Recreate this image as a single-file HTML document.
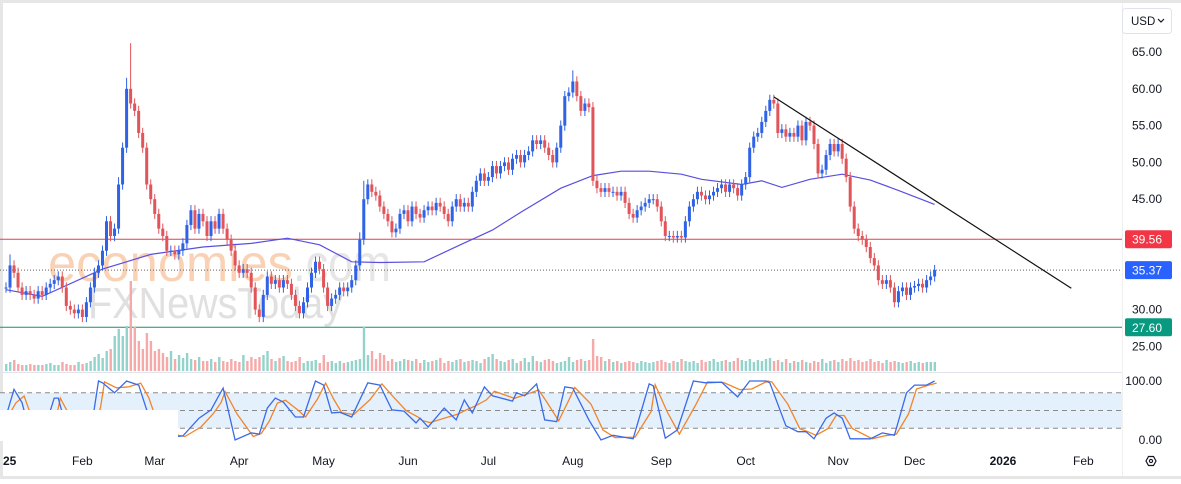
<!DOCTYPE html>
<html><head><meta charset="utf-8"><style>
html,body{margin:0;padding:0;background:#fff;}
body{width:1181px;height:479px;overflow:hidden;font-family:"Liberation Sans",sans-serif;}
svg text{font-family:"Liberation Sans",sans-serif;}
</style></head><body>
<svg id="chart" width="1181" height="479" viewBox="0 0 1181 479" xmlns="http://www.w3.org/2000/svg">
<rect x="0" y="0" width="1181" height="479" fill="#fff"/>
<rect x="0" y="0" width="1181" height="3" fill="#e6e6e6"/>
<rect x="0" y="0" width="3" height="479" fill="#e6e6e6"/>
<rect x="0" y="476" width="1181" height="3" fill="#e6e6e6"/>
<g id="watermark">
<text x="48" y="281" font-size="52" fill="#f9d2b5" textLength="245" lengthAdjust="spacingAndGlyphs">economies</text>
<text x="293" y="281" font-size="52" fill="#e6e6e6" textLength="98" lengthAdjust="spacingAndGlyphs">.com</text>
<text x="88" y="318" font-size="44" fill="#e0e0e0" textLength="255" lengthAdjust="spacingAndGlyphs">FXNewsToday</text>
</g>
<g id="stoch-bg"></g>
<g id="levels"></g>
<g id="volume"></g>
<g id="ma"></g>
<g id="candles"></g>
<g id="stoch"></g>
<rect x="0" y="410" width="178" height="31" fill="#fff"/>
<g id="axes"></g>
</svg>
<script>
const closes=[33,36,35,33,32,32.5,32,31.5,32.5,32,
33,33.5,34,34.5,33,30.5,30,29.5,30,29,
31,33,35,36,38,42,40,41,47,52,
60,58,57,54,52,47,45,43,41,40,
38,38,37.5,38,39,41.5,43.5,41,43,42,
40,42,41,43,41,39.5,38,36,35,35.5,
35,33,30,29,32,34.5,33.5,34,33,34,
33.5,32,30.5,29.5,31,33,35,36.5,35.5,33,
30.5,31.5,32,33,32.5,33,34,36,39.5,45,
47,46,45.5,44,43,42,40.5,41,43,43.5,
42,44,43,42.5,43.5,44,43.5,44.5,44,43,
42,44,45,44,44.5,44,46,47.5,48.5,47.5,
48,49.5,48.5,49.5,50,49,50.5,51,50,51,
51.5,53,52.5,53,52,51,50,52,55,59,
59.5,61,59,57,58,57.5,47.5,46.5,46,46.5,
46,46,45.5,46,44.5,43,42.5,43.5,44,44.5,
45,45,44,42,40,40,39.8,40,39.8,42,
44,45,46,45.5,45,45.5,46,46.5,47,46,
47,46.5,45.5,47,48,52,53.5,54,55.5,57,
58.5,58,54,54.5,53.5,54,53.5,55,53,55.5,
55,52.5,48.5,49,51,52.5,51.5,52.5,50.5,48,
44,41,40,39.5,38.5,37,36,34,33.5,34,
33,31,32.5,33,32,33,33.2,33.5,33,34,
34.5,35.37];
const spikeIdx=[1,28,31,30,88,89,141,190,221];
const spikeHigh=[37.5,48,66.2,61.5,40.5,47.5,62.5,59,32];
const volumes=[7,9,11,7,6,6,7,6,6,6,
7,8,6,6,9,7,6,6,9,7,
8,10,14,17,13,20,22,35,42,35,
45,90,44,30,22,38,30,20,22,18,
14,20,12,16,13,18,12,11,14,10,
10,12,9,14,10,9,12,10,9,16,
10,14,12,14,16,20,12,10,13,15,
10,9,10,14,8,10,10,11,8,16,
9,10,8,10,8,9,10,11,12,44,
16,20,12,18,16,10,12,9,10,12,
11,10,12,8,11,9,10,11,13,8,
10,9,11,12,9,10,11,10,8,12,
14,17,12,10,9,11,12,8,10,13,
9,15,10,9,11,12,10,8,9,10,
14,9,11,12,10,11,32,15,14,10,
12,9,10,8,9,10,9,8,10,9,
8,9,10,11,9,8,10,9,12,10,
9,10,8,11,9,10,12,9,10,11,
9,10,13,11,10,12,9,11,10,12,
13,10,11,9,12,8,10,9,11,9,
8,10,9,12,8,10,11,9,12,10,
13,10,11,9,10,12,9,10,8,11,
9,10,9,8,9,10,8,9,8,9,
9,9];
const maIdx=[0,9,24,36,49,61,70,78,86,93,104,113,121,128,138,146,153,160,168,173,183,188,193,200,208,215,222,231];
const maVal=[32.7,31.8,35.5,37.5,38.5,39,39.7,38.8,36.5,36.4,36.5,38.8,40.8,43.2,46.5,48.2,48.8,48.8,48.4,47.7,47,47.5,46.6,47.7,48.4,47.6,46.2,44.3];
const kIdx=[0,2,4,6,9,12,13,15,17,21,23,24,27,30,33,35,37,41,44,48,51,53,54,57,61,63,65,67,69,72,74,77,79,81,83,86,90,93,96,99,102,103,105,109,112,114,116,119,121,126,127,129,132,134,137,139,141,145,148,151,156,160,161,164,167,171,174,178,182,185,189,190,194,197,199,201,204,206,208,210,215,218,221,224,226,229,231];
const kVal=[40,86,63,10,5,71,71,20,5,10,100,97,80,100,93,51,15,5,7,37,51,76,88,0,12,10,54,71,64,39,39,100,93,46,47,39,97,93,51,49,29,37,22,54,34,68,46,90,75,66,80,75,95,34,31,90,88,34,0,8,2,95,92,3,17,100,97,98,73,100,100,97,24,14,14,2,37,46,37,2,2,12,8,80,93,93,100];
const levelVals=[39.56,35.37,27.60];
const priceTicks=[65,60,55,50,45,30,25];
const monthLabels=["25","Feb","Mar","Apr","May","Jun","Jul","Aug","Sep","Oct","Nov","Dec","2026","Feb"];
const monthDays=[1,19,37,58,79,100,120,141,163,184,207,226,248,268];
const trendIdx=[191,265];
const trendVal=[58.9,32.9];

const NS="http://www.w3.org/2000/svg";
function el(tag,attrs,parent){const e=document.createElementNS(NS,tag);for(const k in attrs)e.setAttribute(k,attrs[k]);if(parent)parent.appendChild(e);return e;}
const xOf=i=>6+i*4.02;
const yOf=p=>52+(65-p)*7.36;
const kY=v=>440-v*0.59;
const volY=v=>371-v;
const UP="#2f62e6",DN="#e0545a";

// stoch background
const sb=document.getElementById('stoch-bg');
el('rect',{x:0,y:kY(80),width:1122,height:kY(20)-kY(80),fill:"#e4f1fd"},sb);
[80,50,20].forEach(v=>{const l=el('line',{x1:0,x2:1122,y1:kY(v),y2:kY(v),stroke:"#8a8a8a","stroke-dasharray":"5,4","stroke-width":1},sb);

});
el('line',{x1:0,x2:1122,y1:372.5,y2:372.5,stroke:"#e0e3eb","stroke-width":1},sb);
el('line',{x1:1122.5,x2:1122.5,y1:3,y2:476,stroke:"#f0f0f0","stroke-width":1},sb);

// levels
const lv=document.getElementById('levels');
let l1=el('line',{x1:0,x2:1122,y1:yOf(levelVals[0]),y2:yOf(levelVals[0]),stroke:"#e0414f","stroke-width":1},lv);


let l2=el('line',{x1:0,x2:1122,y1:yOf(levelVals[1]),y2:yOf(levelVals[1]),stroke:"#666","stroke-width":1,"stroke-dasharray":"1,2"},lv);


let l3=el('line',{x1:0,x2:1122,y1:yOf(levelVals[2]),y2:yOf(levelVals[2]),stroke:"#1d8a73","stroke-width":1},lv);



// volume
const vg=document.getElementById('volume');
closes.forEach((c,i)=>{const o=i>0?closes[i-1]:c;const v=volumes[i];if(v===undefined)return;
const r=el('rect',{x:xOf(i)-1,y:volY(v),width:2.4,height:v,fill:c>=o?"#93d3cb":"#f5a9a8"},vg);

});

// MA
const mg=document.getElementById('ma');
let d="";maIdx.forEach((ix,j)=>{d+=(j?"L":"M")+xOf(ix).toFixed(1)+","+yOf(maVal[j]).toFixed(1);});
const mp=el('path',{d:d,fill:"none",stroke:"#5a4fe0","stroke-width":1.2},mg);



// candles
const cg=document.getElementById('candles');
closes.forEach((c,i)=>{const o=i>0?closes[i-1]:c;let hi=Math.max(o,c)+0.7,lo=Math.min(o,c)-0.7;
const s=spikeIdx.indexOf(i);if(s>=0)hi=Math.max(hi,spikeHigh[s]);
const col=c>=o?UP:DN;const x=xOf(i);
const g=el('g',{},cg);


el('line',{x1:x,x2:x,y1:yOf(hi),y2:yOf(lo),stroke:col,"stroke-width":1},g);
const top=yOf(Math.max(o,c)),bh=Math.max(1,yOf(Math.min(o,c))-top);
el('rect',{x:x-1.5,y:top,width:3,height:bh,fill:col},g);});

// trendline
const tl=el('line',{x1:xOf(trendIdx[0]),y1:yOf(trendVal[0]),x2:xOf(trendIdx[1]),y2:yOf(trendVal[1]),stroke:"#111","stroke-width":1.2},cg);



// stoch
const sg=document.getElementById('stoch');
const dVal=kVal.map((v,j)=>j>0?(v+kVal[j-1])/2:v);
let kd="",dd="";kIdx.forEach((ix,j)=>{kd+=(j?"L":"M")+xOf(ix).toFixed(1)+","+kY(kVal[j]).toFixed(1);dd+=(j?"L":"M")+(xOf(ix)+2).toFixed(1)+","+kY(dVal[j]).toFixed(1);});
const dp=el('path',{d:dd,fill:"none",stroke:"#f2842a","stroke-width":1.3},sg);


const kp=el('path',{d:kd,fill:"none",stroke:"#3a6ae8","stroke-width":1.3},sg);



// axes
const ax=document.getElementById('axes');
priceTicks.forEach(p=>{const t=el('text',{x:1162,y:yOf(p)+4,"font-size":12,"text-anchor":"end",fill:"#131722"},ax);t.textContent=p.toFixed(2);

});
[[100,385],[0,444]].forEach(a=>{const t=el('text',{x:1162,y:a[1],"font-size":12,"text-anchor":"end",fill:"#131722"},ax);t.textContent=a[0].toFixed(2);

});
const badgeCols=["#f23645","#2962ff","#089981"];
levelVals.forEach((v,j)=>{const y=yOf(v);const g=el('g',{},ax);


el('rect',{x:1125,y:y-9,width:47,height:18,rx:2,fill:badgeCols[j]},g);
const t=el('text',{x:1162,y:y+4.5,"font-size":12,"text-anchor":"end",fill:"#fff"},g);t.textContent=v.toFixed(2);});
monthLabels.forEach((m,j)=>{const t=el('text',{x:m==="25"?3:xOf(monthDays[j]),y:465,"font-size":12,"text-anchor":m==="25"?"start":"middle",fill:"#131722","font-weight":(m==="2026"||m==="25")?"bold":"normal"},ax);t.textContent=m;

});
// USD button
const ub=el('g',{},ax);


el('rect',{x:1122.5,y:8.5,width:49,height:25,rx:3,fill:"#fff",stroke:"#e0e3eb"},ub);
const ut=el('text',{x:1131,y:25,"font-size":11.5,fill:"#131722"},ub);ut.textContent="USD";
el('path',{d:"M1158,19 l3,3 l3,-3",fill:"none",stroke:"#131722","stroke-width":1.2},ub);
// settings icon
const gi=el('g',{},ax);


el('polygon',{points:"1146,461 1148.5,456.5 1153.5,456.5 1156,461 1153.5,465.5 1148.5,465.5",fill:"none",stroke:"#131722","stroke-width":1.2},gi);
el('circle',{cx:1151,cy:461,r:1.6,fill:"none",stroke:"#131722","stroke-width":1.1},gi);
</script>
</body></html>
